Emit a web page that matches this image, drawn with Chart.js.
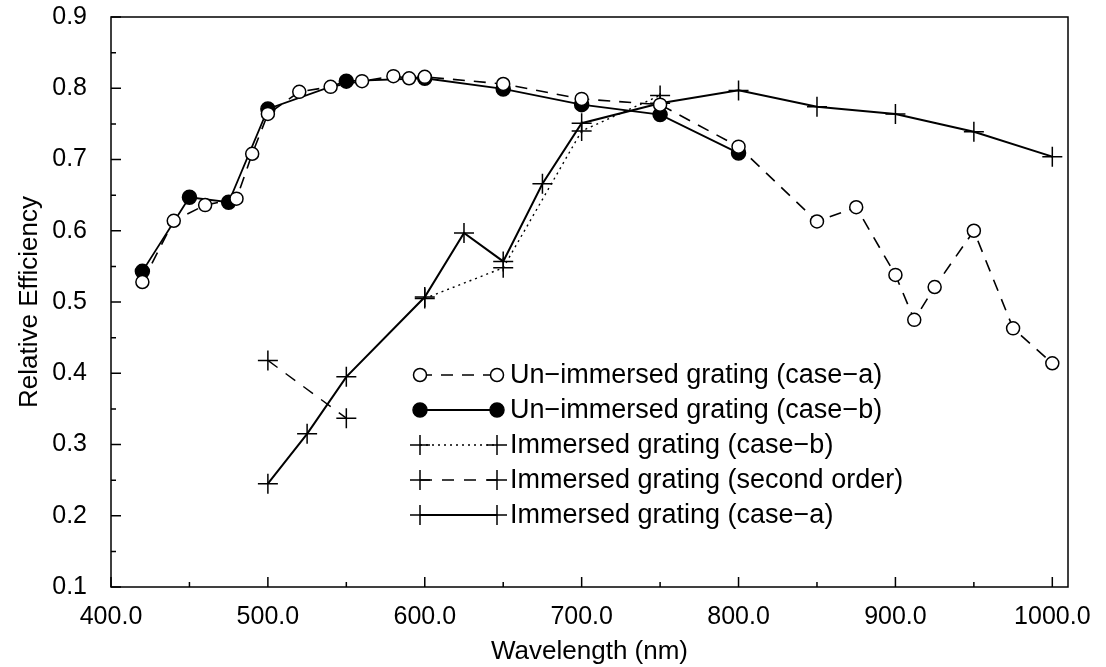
<!DOCTYPE html>
<html>
<head>
<meta charset="utf-8">
<script src="https://cdn.jsdelivr.net/npm/chart.js@4/dist/chart.umd.min.js"></script>
<style>
  html, body { margin: 0; padding: 0; background: #fff; }
  canvas { display: block; }
</style>
</head>
<body>
<canvas id="grafica" width="1106" height="667"></canvas>
<script>
// ejes
const xTicks = [400, 500, 600, 700, 800, 900, 1000];
const yTicks = [0.1, 0.2, 0.3, 0.4, 0.5, 0.6, 0.7, 0.8, 0.9];

// Un-immersed grating (case-a)
const wlUnA = [420, 440, 460, 480, 490, 500, 520, 540, 560, 580, 590, 600, 650, 700, 750, 800, 850, 875, 900, 912, 925, 950, 975, 1000];
const efUnA = [0.528, 0.614, 0.636, 0.645, 0.708, 0.764, 0.795, 0.802, 0.81, 0.817, 0.814, 0.816, 0.806, 0.785, 0.777, 0.718, 0.613, 0.633, 0.538, 0.475, 0.521, 0.600, 0.463, 0.414];

// Un-immersed grating (case-b)
const wlUnB = [420, 450, 475, 500, 550, 600, 650, 700, 750, 800];
const efUnB = [0.543, 0.647, 0.640, 0.771, 0.810, 0.814, 0.799, 0.777, 0.763, 0.709];

// Immersed grating (case-b)
const wlImB = [600, 650, 700, 750];
const efImB = [0.505, 0.548, 0.740, 0.790];

// Immersed grating (second order)
const wlIm2 = [500, 550];
const efIm2 = [0.418, 0.337];

// Immersed grating (case-a)
const wlImA = [500, 525, 550, 600, 625, 650, 675, 700, 750, 800, 850, 900, 950, 1000];
const efImA = [0.245, 0.315, 0.395, 0.507, 0.597, 0.557, 0.666, 0.751, 0.779, 0.797, 0.774, 0.764, 0.739, 0.704];

const fuente = "'Liberation Sans', Arial, sans-serif";

function puntos(xs, ys) {
  return xs.map((x, i) => ({ x: x, y: ys[i] }));
}

const series = [
  { label: "Un\u2212immersed grating (case\u2212a)", data: puntos(wlUnA, efUnA), dash: [12, 9], style: "circle", fill: "#fff", radius: 6.5, ancho: 1.6 },
  { label: "Un\u2212immersed grating (case\u2212b)", data: puntos(wlUnB, efUnB), dash: [], style: "circle", fill: "#000", radius: 7, ancho: 1.8 },
  { label: "Immersed grating (case\u2212b)", data: puntos(wlImB, efImB), dash: [2, 4], style: "cross", fill: "#000", radius: 10, ancho: 1.4 },
  { label: "Immersed grating (second order)", data: puntos(wlIm2, efIm2), dash: [12, 10], style: "cross", fill: "#000", radius: 10, ancho: 1.4 },
  { label: "Immersed grating (case\u2212a)", data: puntos(wlImA, efImA), dash: [], style: "cross", fill: "#000", radius: 10, ancho: 2 },
];

// marco, ticks interiores y leyenda dentro del area
const marcoPlugin = {
  id: "marco",
  afterDraw(chart) {
    const ctx = chart.ctx;
    const a = chart.chartArea;
    const sx = chart.scales.x, sy = chart.scales.y;
    ctx.save();
    ctx.strokeStyle = "#000";
    ctx.lineWidth = 1.5;
    ctx.strokeRect(a.left, a.top, a.right - a.left, a.bottom - a.top);
    ctx.beginPath();
    for (let v = 400; v <= 1000; v += 50) {
      const px = sx.getPixelForValue(v);
      const largo = v % 100 === 0 ? 10 : 5;
      ctx.moveTo(px, a.bottom);
      ctx.lineTo(px, a.bottom - largo);
    }
    for (let k = 2; k <= 18; k++) {
      const py = sy.getPixelForValue(k * 0.05);
      const largo = k % 2 === 0 ? 10 : 5;
      ctx.moveTo(a.left, py);
      ctx.lineTo(a.left + largo, py);
    }
    ctx.stroke();

    // leyenda
    const x0 = 420, x1 = 497, xt = 510;
    const filas = [375, 410, 445, 480, 515];
    ctx.font = "27px " + fuente;
    ctx.textBaseline = "middle";
    ctx.fillStyle = "#000";
    series.forEach((s, i) => {
      const y = filas[i];
      ctx.beginPath();
      ctx.setLineDash(s.dash);
      ctx.lineWidth = s.ancho;
      ctx.moveTo(x0, y);
      ctx.lineTo(x1, y);
      ctx.stroke();
      ctx.setLineDash([]);
      [x0, x1].forEach(px => {
        ctx.beginPath();
        if (s.style === "circle") {
          ctx.arc(px, y, s.radius, 0, Math.PI * 2);
          ctx.fillStyle = s.fill;
          ctx.fill();
          ctx.lineWidth = 1.5;
          ctx.stroke();
        } else {
          ctx.lineWidth = 1.5;
          ctx.moveTo(px - s.radius, y);
          ctx.lineTo(px + s.radius, y);
          ctx.moveTo(px, y - s.radius);
          ctx.lineTo(px, y + s.radius);
          ctx.stroke();
        }
      });
      ctx.fillStyle = "#000";
      ctx.fillText(s.label, xt, y + 1);
    });
    ctx.restore();
  }
};

new Chart(document.getElementById("grafica"), {
  type: "line",
  data: {
    datasets: series.map(s => ({
      label: s.label,
      data: s.data,
      borderColor: "#000",
      borderWidth: s.ancho,
      borderDash: s.dash,
      pointStyle: s.style,
      pointRadius: s.radius,
      pointBackgroundColor: s.fill,
      pointBorderColor: "#000",
      pointBorderWidth: 1.5,
      tension: 0,
      fill: false,
    })),
  },
  options: {
    responsive: false,
    animation: false,
    layout: { padding: { top: 17, right: 38, left: 0, bottom: 0 } },
    plugins: { legend: { display: false }, tooltip: { enabled: false } },
    scales: {
      x: {
        type: "linear",
        min: 400,
        max: 1010,
        afterBuildTicks: scale => { scale.ticks = xTicks.map(v => ({ value: v })); },
        afterFit: scale => { scale.height = 80; },
        grid: { display: false },
        border: { display: false },
        ticks: { color: "#000", font: { family: fuente, size: 25 }, padding: 7, maxRotation: 0, callback: v => v.toFixed(1) },
        title: { display: true, text: "Wavelength (nm)", color: "#000", font: { family: fuente, size: 26 }, padding: { top: 0, bottom: 0 } },
      },
      y: {
        min: 0.1,
        max: 0.9,
        afterBuildTicks: scale => { scale.ticks = yTicks.map(v => ({ value: v })); },
        afterFit: scale => { scale.width = 111; },
        grid: { display: false },
        border: { display: false },
        ticks: { color: "#000", font: { family: fuente, size: 25, lineHeight: 0.05 }, padding: 16, callback: v => v.toFixed(1) },
        title: { display: true, text: "Relative Efficiency", color: "#000", font: { family: fuente, size: 26 }, padding: { top: 14, bottom: 0 } },
      },
    },
  },
  plugins: [marcoPlugin],
});
</script>
</body>
</html>
